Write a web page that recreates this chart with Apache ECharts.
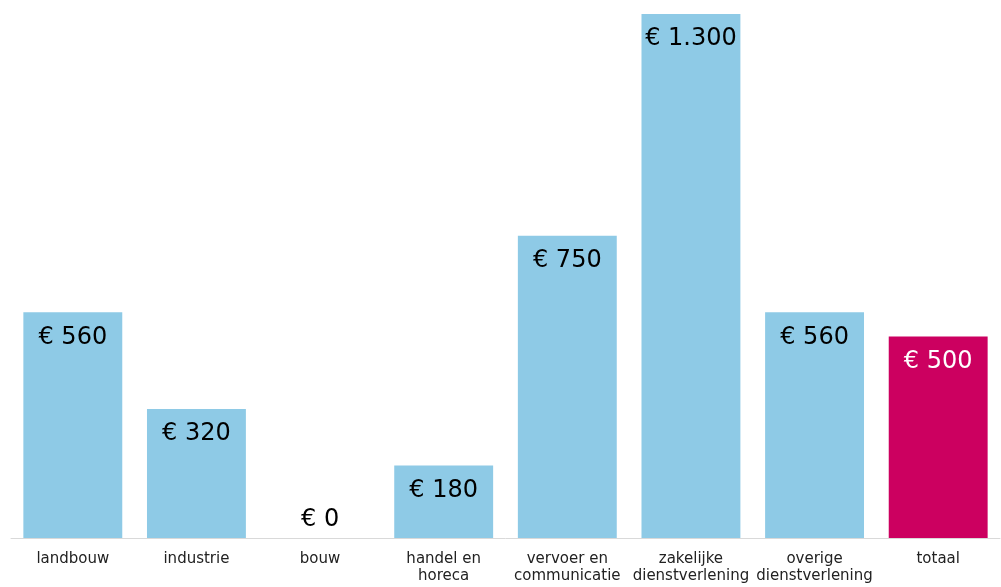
<!DOCTYPE html>
<html>
<head>
<meta charset="utf-8">
<script src="https://cdn.jsdelivr.net/npm/echarts@6/dist/echarts.min.js"></script>
<style>
html,body{margin:0;padding:0;background:#fff;}
#chart{width:1001px;height:587px;}
</style>
</head>
<body>
<div id="chart"></div>
<script>
const categories = ['landbouw', 'industrie', 'bouw', 'handel en\nhoreca', 'vervoer en\ncommunicatie', 'zakelijke\ndienstverlening', 'overige\ndienstverlening', 'totaal'];
const values = [560, 320, 0, 180, 750, 1300, 560, 500];
const highlightIndex = 7;

const BLUE = '#8ECAE6';
const PINK = '#CC0060';

function fmt(v) {
  return '€ ' + String(v).replace(/\B(?=(\d{3})+(?!\d))/g, '.');
}

const data = values.map((v, i) => {
  const item = { value: v, itemStyle: { color: i === highlightIndex ? PINK : BLUE } };
  item.label = { color: i === highlightIndex ? '#ffffff' : '#000000' };
  if (v === 0) { item.label.position = 'top'; item.label.distance = 6; }
  return item;
});

const chart = echarts.init(document.getElementById('chart'));
chart.setOption({
  animation: false,
  textStyle: { fontFamily: 'DejaVu Sans, Verdana, sans-serif' },
  grid: { left: 11, right: 1, top: 14, bottom: 49, containLabel: false },
  xAxis: {
    type: 'category',
    data: categories,
    axisLine: { show: true, lineStyle: { color: '#d9d9d9', width: 1 } },
    axisTick: { show: false },
    axisLabel: { color: '#222222', fontSize: 15, lineHeight: 17, margin: 13, interval: 0, fontFamily: 'DejaVu Sans, Verdana, sans-serif' }
  },
  yAxis: {
    type: 'value',
    min: 0,
    max: 1300,
    show: false,
    splitLine: { show: false }
  },
  series: [{
    type: 'bar',
    data: data,
    barCategoryGap: '20%',
    label: {
      show: true,
      position: 'insideTop',
      distance: 13,
      fontSize: 24,
      fontFamily: 'DejaVu Sans, Verdana, sans-serif',
      formatter: p => fmt(p.value)
    }
  }]
});
</script>
</body>
</html>
